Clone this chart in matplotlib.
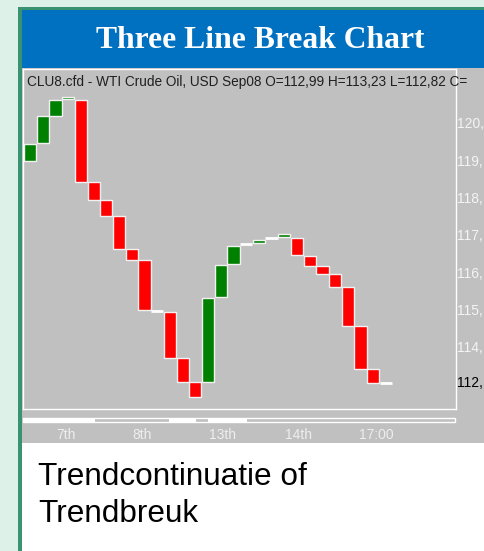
import numpy as np
import matplotlib.pyplot as plt
from matplotlib.patches import Rectangle
import matplotlib.transforms as mtrans

# three line break bricks (open / close price per column)
opens = [118.98, 119.46, 120.19, 120.63, 120.61, 118.41, 117.93, 117.50, 116.62, 116.32,
         114.96, 114.92, 113.70, 113.05, 113.05, 115.34, 116.21, 116.74, 116.77, 116.90,
         116.93, 116.90, 116.43, 116.17, 115.95, 115.60, 114.55, 113.40, 113.02]
closes = [119.43, 120.18, 120.61, 120.68, 118.42, 117.93, 117.51, 116.61, 116.33, 114.98,
          114.96, 113.69, 113.05, 112.66, 115.31, 116.19, 116.71, 116.74, 116.86, 116.90,
          117.02, 116.46, 116.17, 115.94, 115.61, 114.55, 113.40, 113.04, 113.02]
price_ticks = [114, 115, 116, 117, 118, 119, 120]
price_labels = ["114,", "115,", "116,", "117,", "118,", "119,", "120,"]
last_price = 113.02
last_label = "112,"
time_pos = [3.3, 9.3, 15.6, 21.6, 27.7]
time_labels = ["7th", "8th", "13th", "14th", "17:00"]
header = "CLU8.cfd - WTI Crude Oil, USD Sep08 O=112,99 H=113,23 L=112,82 C="

W, H = 484, 551
fig = plt.figure(figsize=(W / 100, H / 100), dpi=100, facecolor='#ddf1e8')

# pixel overlay for the slide frame
bg = fig.add_axes([0, 0, 1, 1])
bg.set_xlim(0, W)
bg.set_ylim(H, 0)
bg.axis('off')
bg.add_patch(Rectangle((18, 7), W - 18, H - 7, color='#3a9370', lw=0))
bg.add_patch(Rectangle((22, 10), W - 22, H - 10, color='white', lw=0))
bg.add_patch(Rectangle((22, 10), W - 22, 58, color='#0070c0', lw=0))
bg.add_patch(Rectangle((22, 68), W - 22, 375, color='#c0c0c0', lw=0))
# time strip under the chart
bg.add_patch(Rectangle((23, 418), 432, 4, fill=False, ec='white', lw=1))
for a, b in [(23, 95), (169, 196), (208, 247)]:
    bg.add_patch(Rectangle((a, 418), b - a, 4, color='white', lw=0))

bg.text(260, 40, "Three Line Break Chart", color='white', fontsize=22.8,
        fontweight='bold', family='Liberation Serif', ha='center', va='center')
bg.text(38, 485, "Trendcontinuatie of", fontsize=22.7, family='Liberation Sans',
        color='black', va='baseline')
bg.text(38, 522, "Trendbreuk", fontsize=22.7, family='Liberation Sans',
        color='black', va='baseline')

# chart axes
ax = fig.add_axes([23 / W, (H - 409) / H, 433 / W, 340 / H])
ax.set_facecolor('#c0c0c0')
ax.set_xlim(-0.08, 33.99)
ax.set_ylim(112.33, 121.44)
for s in ax.spines.values():
    s.set_color('white')
    s.set_linewidth(1)

x = np.arange(len(opens))
o = np.array(opens)
c = np.array(closes)
up = c > o
dn = c < o
flat = c == o
w = 0.96
ax.bar(x[up], c[up] - o[up], bottom=o[up], width=w, align='edge',
       color='#008000', edgecolor='#f2f2f2', linewidth=1)
ax.bar(x[dn], c[dn] - o[dn], bottom=o[dn], width=w, align='edge',
       color='#ff0000', edgecolor='#f2f2f2', linewidth=1)
ax.hlines(o[flat], x[flat], x[flat] + w, color='white', lw=2)

ax.yaxis.tick_right()
ax.set_yticks(price_ticks)
ax.set_yticklabels(price_labels, family='Liberation Sans', fontsize=10, color='#f4f4f4')
ax.tick_params(axis='y', length=0, pad=1)
ax.set_xticks(time_pos)
ax.set_xticklabels(time_labels, family='Liberation Sans', fontsize=10, color='#eeeeee')
ax.tick_params(axis='x', length=0, pad=14)

tr = mtrans.blended_transform_factory(ax.transAxes, ax.transData)
ax.text(1.002, last_price, last_label, transform=tr, family='Liberation Sans',
        fontsize=10, color='black', va='center', ha='left')
ax.text(4 / 433, 0.962, header, transform=ax.transAxes, family='Liberation Sans',
        fontsize=9.85, color='#202020', va='center', ha='left', clip_on=False)

fig.savefig('out.png', dpi=100, facecolor=fig.get_facecolor())
